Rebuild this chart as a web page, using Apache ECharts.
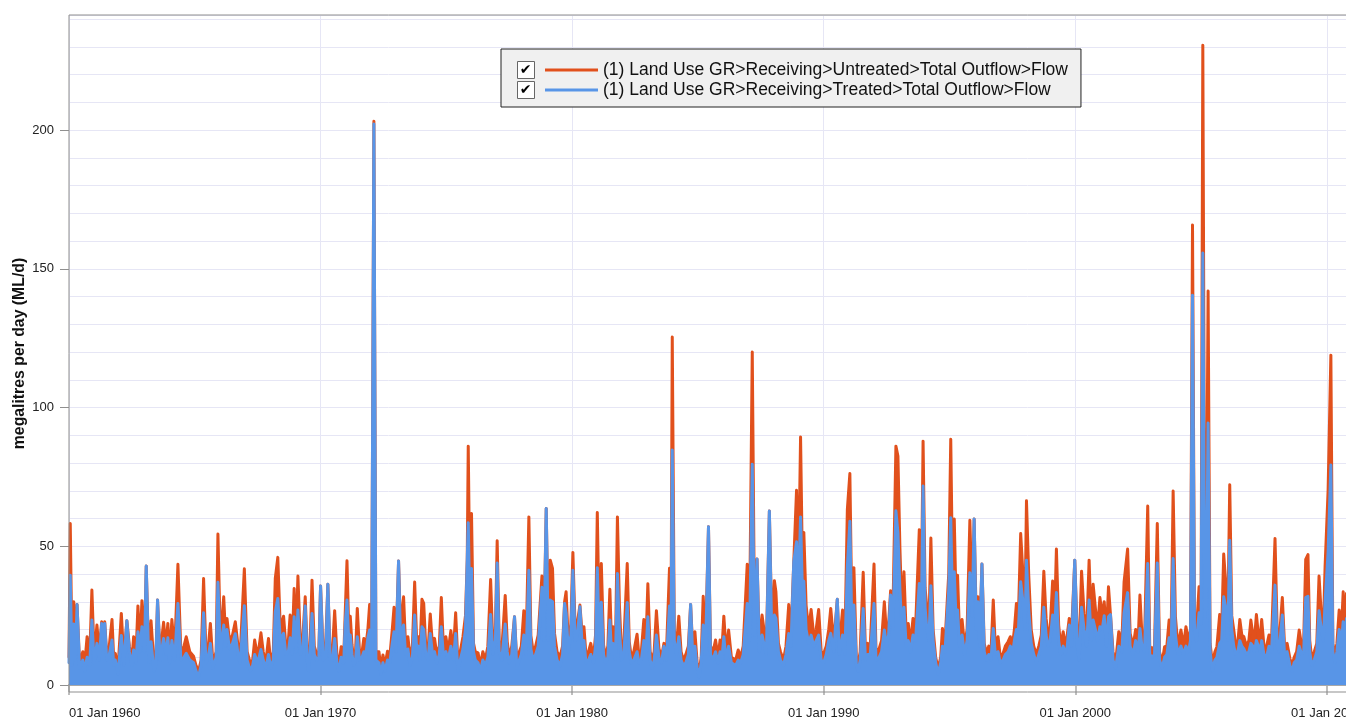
<!DOCTYPE html>
<html>
<head>
<meta charset="utf-8">
<script src="https://cdn.jsdelivr.net/npm/echarts@6/dist/echarts.min.js"></script>
<style>
html,body{margin:0;padding:0;background:#fff;}
#chart{width:1346px;height:720px;}
</style>
</head>
<body>
<div id="chart"></div>
<script>
// [decimal year, untreated ML/d, treated ML/d]
const flow1960s = [
[1960.00,10,8],[1960.05,58.2,39.6],[1960.12,10,7],[1960.19,30,22],[1960.25,12,9],[1960.32,29,29],[1960.42,8,6],[1960.55,12,9],[1960.62,7,5],[1960.72,17.4,10],[1960.82,9,7],[1960.91,34.2,23.4],[1961.00,10,8],[1961.11,21.6,15],[1961.20,12,9],[1961.30,22.8,22.2],[1961.36,16,13],[1961.42,22.8,22.2],[1961.50,11,9],[1961.60,14,11],[1961.71,23.6,16.2],[1961.78,9,7],[1961.84,11.4,9],[1961.95,6,4],[1962.08,25.8,17.8],[1962.18,9,7],[1962.30,23.2,23.2],[1962.40,14,12],[1962.50,9,7],[1962.57,17.4,12.6],[1962.66,10,8],[1962.74,28.5,19.2],[1962.82,14,12],[1962.90,30.4,21],[1963.00,15,12],[1963.07,42.9,42.9],[1963.17,10,8],[1963.26,23.2,15.6],[1963.38,7,5],[1963.45,9,7],[1963.52,30.6,30.6],[1963.62,11,9],[1963.76,22.6,16.8],[1963.85,14,11],[1963.93,22.2,17],[1964.00,10,8],[1964.09,23.6,16],[1964.20,12,9],[1964.33,43.5,29.4],[1964.45,11,9],[1964.57,14,10],[1964.66,17.4,11.4],[1964.80,12,9],[1964.95,10.4,8],[1965.05,7,5],[1965.15,4.8,3],[1965.25,9,7],[1965.35,38.4,26],[1965.45,10,8],[1965.55,15,11],[1965.62,22.2,15],[1965.72,8,6],[1965.85,12,10],[1965.92,54.4,37],[1966.02,15,12],[1966.15,31.8,21.6],[1966.22,18,14],[1966.28,24,20],[1966.38,16,13],[1966.50,18,15],[1966.61,22.8,18.5],[1966.72,14,11],[1966.80,10,8],[1966.97,41.9,28.6],[1967.08,12,9],[1967.21,7.8,5],[1967.30,9,7],[1967.38,16.2,11],[1967.50,10,8],[1967.63,18.8,12.8],[1967.72,12,9],[1967.82,8,6],[1967.93,16.8,11],[1968.02,8,6],[1968.12,12,9],[1968.20,38.4,26.4],[1968.30,46,31.2],[1968.40,20,16],[1968.53,24.8,18.6],[1968.62,14,11],[1968.72,16,12],[1968.79,25.2,17],[1968.87,14,11],[1968.95,34.8,24.6],[1969.02,15,12],[1969.10,39.3,27],[1969.20,14,11],[1969.30,18,14],[1969.39,31.8,28.5],[1969.47,12,9],[1969.52,7.2,5],[1969.58,14,11],[1969.66,37.8,25.8],[1969.75,14,11],[1969.85,11,9],[1969.93,12,10]
];
const flow1970s = [
[1970.00,35.7,35.7],[1970.10,12,9],[1970.20,14,10],[1970.29,36.3,36.3],[1970.38,11,9],[1970.47,12,9],[1970.56,26.8,16.8],[1970.65,11,8],[1970.72,7,5],[1970.82,13.8,10],[1970.92,10,8],[1970.98,26,22],[1971.05,44.8,30.6],[1971.12,20,16],[1971.18,24.8,18],[1971.25,14.4,11],[1971.32,9,7],[1971.39,12,9],[1971.46,27.6,17.4],[1971.55,11.4,9],[1971.65,12,10],[1971.72,16.8,12],[1971.80,14,11],[1971.88,20,17],[1971.95,29,19.8],[1972.03,15,12],[1972.12,203.2,202.2],[1972.20,12,9],[1972.32,12,8],[1972.40,6,4],[1972.48,10.8,8],[1972.56,7,5],[1972.66,12.2,9],[1972.75,10,8],[1972.85,20,15],[1972.92,28,19.2],[1973.00,15,12],[1973.10,44.7,44.7],[1973.18,20,16],[1973.30,31.8,21.6],[1973.38,14,11],[1973.47,17.4,13],[1973.56,10,7],[1973.65,14,10],[1973.74,37.1,25.2],[1973.82,16,13],[1973.88,17.4,14],[1973.95,12,9],[1974.03,30.9,21],[1974.10,29.4,20],[1974.18,14,11],[1974.27,12,9],[1974.36,25.6,18.6],[1974.45,14,11],[1974.53,16.8,12],[1974.62,11,8],[1974.72,14,11],[1974.80,31.5,21],[1974.88,14,11],[1974.98,17.4,12],[1975.07,12,9],[1975.18,19.6,14],[1975.28,12,9],[1975.37,26,18.6],[1975.46,7.8,5],[1975.55,12,9],[1975.66,17.4,13],[1975.76,25,20],[1975.83,45.2,45],[1975.87,86.1,58.5],[1975.94,30,25],[1976.00,61.8,42],[1976.08,15,12],[1976.15,12,9],[1976.26,11.6,8],[1976.35,7,5],[1976.45,12,9],[1976.55,9,7],[1976.65,14,10],[1976.76,38,25.4],[1976.85,14,11],[1976.95,20,16],[1977.02,52,44],[1977.10,16,12],[1977.20,12,9],[1977.34,32.3,22],[1977.42,15.6,12],[1977.50,10,8],[1977.60,14,11],[1977.71,24.6,24.6],[1977.80,8.4,6],[1977.90,12,9],[1977.98,14,11],[1978.08,26.8,18],[1978.17,14,11],[1978.28,60.6,41.4],[1978.36,17.8,13],[1978.45,12,9],[1978.55,14,11],[1978.65,18,14],[1978.80,39.3,35.2],[1978.88,20,16],[1978.97,63.6,63.6],[1979.05,20,16],[1979.13,45,30.6],[1979.22,42,30],[1979.30,18.6,14],[1979.40,12,9],[1979.52,10.2,7],[1979.62,14,11],[1979.70,30,29.4],[1979.76,33.6,26],[1979.85,15,12],[1979.95,22,18]
];
const flow1980s = [
[1980.03,47.8,41.4],[1980.12,20,16],[1980.20,22,17],[1980.31,28.8,28.2],[1980.40,18,14],[1980.47,21,16],[1980.55,10.8,8],[1980.65,12,9],[1980.74,15,11],[1980.85,10,8],[1980.93,18,14],[1981.00,62.2,42.3],[1981.08,20,15],[1981.16,43.8,29.8],[1981.25,14.4,11],[1981.33,10,8],[1981.42,14,10],[1981.50,34.5,23.4],[1981.57,14,11],[1981.63,21,15],[1981.72,12,9],[1981.80,60.6,40.2],[1981.88,28.6,20],[1981.96,12,9],[1982.05,14,11],[1982.19,43.8,29.7],[1982.27,15.6,12],[1982.35,10,8],[1982.45,12,9],[1982.58,18.3,12],[1982.66,10,8],[1982.75,12,9],[1982.85,23.6,16],[1982.93,14,11],[1983.01,36.5,24.6],[1983.10,12,9],[1983.18,9,6],[1983.26,12,9],[1983.35,26.8,18],[1983.45,13.2,10],[1983.55,10,8],[1983.65,15,14],[1983.75,12,9],[1983.87,42.1,28.5],[1983.93,20,16],[1983.98,125.4,84.7],[1984.06,20,16],[1984.15,14,11],[1984.24,24.8,17.4],[1984.33,12,9],[1984.42,9,7],[1984.52,11,8],[1984.62,14,11],[1984.71,29,29],[1984.80,12,9],[1984.88,19.2,14],[1984.97,8,6],[1985.05,4.8,3],[1985.13,10,8],[1985.21,32,21.6],[1985.30,14,11],[1985.42,57,57],[1985.50,14,11],[1985.60,12,9],[1985.70,16.2,12],[1985.80,10,8],[1985.88,16.2,12],[1985.95,12,9],[1986.03,24.8,17.4],[1986.12,12,9],[1986.22,19.8,14],[1986.33,10,8],[1986.50,9,7],[1986.60,12.6,9],[1986.70,10,8],[1986.80,14,11],[1986.96,43.5,29.4],[1987.05,20,16],[1987.16,120,79.6],[1987.25,22,18],[1987.35,45.4,45.4],[1987.44,15,12],[1987.55,25.2,18],[1987.62,20.4,15],[1987.72,14,11],[1987.84,62.7,62.7],[1987.94,20,16],[1988.04,37.6,25.2],[1988.10,33.6,24],[1988.20,15,12],[1988.28,12,9],[1988.40,9,7],[1988.50,14,11],[1988.61,29,18.6],[1988.70,18,14],[1988.81,44.4,44.4],[1988.92,70.2,51.6],[1989.00,40,35],[1989.08,89.4,60.6],[1989.15,45,35],[1989.21,55,37.4],[1989.30,28.8,20],[1989.40,20,15],[1989.50,27.2,18],[1989.60,18,14],[1989.70,20,16],[1989.80,27.2,18],[1989.90,12,9]
];
const flow1990s = [
[1990.00,11.4,8],[1990.10,14,11],[1990.20,20,16],[1990.28,27.6,18.6],[1990.40,15,12],[1990.54,30.9,30.9],[1990.62,14,11],[1990.75,27,18],[1990.84,14,11],[1990.94,63.3,42.6],[1991.04,76.2,59],[1991.12,25,20],[1991.20,42.3,28.8],[1991.30,9,7],[1991.37,7.8,5],[1991.45,12,9],[1991.57,40.6,27.6],[1991.66,12,9],[1991.75,15,11],[1991.85,14,11],[1992.00,43.6,29.4],[1992.08,12,9],[1992.20,13,10],[1992.30,16,12],[1992.41,30,19.8],[1992.50,18,14],[1992.58,22,18],[1992.66,34,32.4],[1992.75,25,20],[1992.87,86.1,62.8],[1992.95,82.5,55],[1993.03,49.2,34.2],[1993.11,25,20],[1993.19,40.8,28],[1993.28,18,14],[1993.36,22.2,16],[1993.45,15,12],[1993.55,24,18],[1993.65,20,16],[1993.80,56,36.6],[1993.88,30,25],[1993.95,87.9,71.7],[1994.03,35,28],[1994.10,28,20],[1994.18,20,16],[1994.26,53,35.8],[1994.35,20,16],[1994.45,10,8],[1994.55,6,4],[1994.65,10,8],[1994.72,20.4,14],[1994.82,15,12],[1994.97,40.2,34.2],[1995.05,88.6,60.3],[1995.12,40,30],[1995.19,59.8,40.8],[1995.26,30,24],[1995.32,39.6,27],[1995.40,18,14],[1995.50,23.6,18],[1995.60,14,11],[1995.70,20,16],[1995.81,59.4,40.5],[1995.90,30,25],[1995.98,59.8,59.8],[1996.06,25,20],[1996.13,31.8,30],[1996.20,18,14],[1996.29,43.6,43.6],[1996.38,15,12],[1996.47,11.4,9],[1996.56,14,11],[1996.65,12,9],[1996.74,30.6,20.4],[1996.82,14,11],[1996.93,17.4,12],[1997.02,10,8],[1997.13,11.4,9],[1997.22,14,11],[1997.33,15.6,12],[1997.42,17.4,14],[1997.50,14,11],[1997.58,20,16],[1997.66,29.4,20],[1997.74,25,20],[1997.83,54.6,37.2],[1997.92,40,30],[1998.00,25,20],[1998.06,66.4,45],[1998.15,39.6,27],[1998.25,19.8,15],[1998.35,14,11],[1998.45,11,8],[1998.55,14,11],[1998.65,18,14],[1998.75,41,28],[1998.84,24,18],[1998.92,18,14],[1999.00,20,16],[1999.10,37.5,25.2],[1999.18,25,20],[1999.25,49,33.3],[1999.34,21.6,16],[1999.42,14,11],[1999.52,19.2,14],[1999.60,14,11],[1999.68,18,14],[1999.76,24,21.6],[1999.85,18,14],[1999.98,45,45]
];
const flow2000s = [
[2000.08,18,14],[2000.15,11,9],[2000.25,41,28],[2000.35,25.8,20],[2000.45,18,14],[2000.55,45,30.6],[2000.64,20,16],[2000.71,36.3,23.4],[2000.80,27.6,20],[2000.88,20,16],[2000.98,31.5,21],[2001.07,25,20],[2001.15,30,25],[2001.24,18,14],[2001.32,35.4,24.6],[2001.40,25.4,25.4],[2001.50,12,9],[2001.60,8,6],[2001.73,19.2,14],[2001.85,15,12],[2001.94,37.2,26],[2002.08,49,33.3],[2002.18,18.6,14],[2002.30,14,11],[2002.40,20,16],[2002.50,16,12],[2002.57,32.4,20.4],[2002.65,18,14],[2002.75,15,12],[2002.88,64.5,43.8],[2002.96,14,11],[2003.06,13,10],[2003.15,14,11],[2003.26,58.2,44],[2003.35,12,9],[2003.45,8,6],[2003.55,13.8,10],[2003.64,14,11],[2003.73,23.4,17],[2003.81,18,14],[2003.89,69.9,45.6],[2003.98,24.6,18],[2004.08,14,11],[2004.20,19.8,14],[2004.30,14,11],[2004.40,21,14],[2004.50,15.6,12],[2004.58,20,16],[2004.66,165.8,140.5],[2004.74,24,20],[2004.82,20,16],[2004.92,35.4,26],[2005.00,25,22],[2005.07,230.6,155.7],[2005.15,30,24],[2005.21,40,30],[2005.28,142,94.4],[2005.36,15,12],[2005.45,7.8,5],[2005.55,12,9],[2005.63,13.8,10],[2005.74,25.4,15],[2005.82,20,16],[2005.90,47.2,31.8],[2005.98,37,28],[2006.06,20,16],[2006.14,72.2,52.2],[2006.22,25,20],[2006.30,19.8,14],[2006.38,14,11],[2006.46,15,12],[2006.54,23.6,16],[2006.62,18,14],[2006.70,17.4,13],[2006.80,14,11],[2006.90,16,12],[2006.98,23.4,15],[2007.06,18,14],[2007.12,16,12],[2007.20,25.4,16],[2007.28,18,14],[2007.34,16,12],[2007.41,23.6,16],[2007.50,14,11],[2007.60,13.8,10],[2007.70,18,14],[2007.80,15.6,12],[2007.94,52.8,36],[2008.03,18,14],[2008.10,15,12],[2008.23,31.5,25.2],[2008.32,14,11],[2008.42,15,12],[2008.53,9.6,7],[2008.62,7,5],[2008.70,10,8],[2008.80,12,9],[2008.90,19.8,14],[2009.00,14,11],[2009.08,16,12],[2009.16,45.3,31.5],[2009.25,47,32],[2009.32,16,12],[2009.40,9.6,7],[2009.50,12,9],[2009.60,15,12],[2009.69,39.3,26.8],[2009.78,25,20],[2009.86,20,16],[2009.93,42.6,30]
];
const flow2010s = [
[2010.05,70.2,48],[2010.16,118.9,79.3],[2010.24,15,12],[2010.32,10.8,8],[2010.40,15,12],[2010.49,27,20],[2010.57,18,14],[2010.65,33.6,22.8],[2010.72,20,16],[2010.78,33,24],[2010.85,15,12],[2010.95,12,9]
];

const seriesNames = [
  '(1) Land Use GR>Receiving>Untreated>Total Outflow>Flow',
  '(1) Land Use GR>Receiving>Treated>Total Outflow>Flow'
];
const yTickValues = [0, 50, 100, 150, 200];
const xTickYears = [1960, 1970, 1980, 1990, 2000, 2010];
const yAxisTitle = 'megalitres per day (ML/d)';

const ORANGE = '#e1501c';
const BLUE = '#5895e7';
const GRIDC = '#e6e6f5';
const FONT = '"Liberation Sans", Arial, sans-serif';

const allRows = [].concat(flow1960s, flow1970s, flow1980s, flow1990s, flow2000s, flow2010s);
const untreatedData = allRows.map(r => [r[0], r[1]]);
const treatedData = allRows.map(r => [r[0], r[2]]);

const chart = echarts.init(document.getElementById('chart'), null, {renderer: 'canvas'});
const option = {
  animation: false,
  backgroundColor: '#fff',
  textStyle: {fontFamily: FONT},
  grid: [
    {left: 69, right: -6, top: 15, bottom: 35, show: false, containLabel: false, outerBoundsMode: 'none'},
    {left: 69, right: -6, top: 15, bottom: 28, show: true, borderColor: '#8f8f8f', borderWidth: 1, backgroundColor: 'transparent', z: 5, containLabel: false, outerBoundsMode: 'none'}
  ],
  xAxis: [
    {
      type: 'value', gridIndex: 0, min: 1960, max: 2011, interval: 10, offset: 7,
      axisLine: {show: true, lineStyle: {color: '#a8a8a8', width: 2}},
      axisTick: {show: true, length: 10, lineStyle: {color: '#a8a8a8', width: 1.5}},
      axisLabel: {
        show: true, color: '#222', fontSize: 13, fontFamily: FONT, margin: 15,
        showMaxLabel: false, alignMinLabel: 'left', hideOverlap: false,
        formatter: v => (xTickYears.indexOf(v) >= 0 ? '01 Jan ' + v : '')
      },
      splitLine: {show: true, lineStyle: {color: GRIDC, width: 1}}
    },
    {type: 'value', gridIndex: 1, min: 0, max: 1, show: false}
  ],
  yAxis: [
    {
      type: 'value', gridIndex: 0, min: 0, max: 241.5, interval: 10,
      axisLine: {show: false}, axisTick: {show: false}, axisLabel: {show: false},
      splitLine: {show: true, lineStyle: {color: GRIDC, width: 1}}
    },
    {
      type: 'value', gridIndex: 0, min: 0, max: 241.5, interval: 50, position: 'left',
      axisLine: {show: false},
      axisTick: {show: true, length: 9, customValues: yTickValues, lineStyle: {color: '#8f8f8f', width: 1}},
      axisLabel: {show: true, customValues: yTickValues, color: '#222', fontSize: 13, fontFamily: FONT, margin: 15},
      splitLine: {show: false}
    },
    {
      type: 'value', gridIndex: 1, min: 0, max: 1, position: 'left',
      axisLine: {show: false}, axisTick: {show: false}, axisLabel: {show: false}, splitLine: {show: false},
      name: yAxisTitle, nameLocation: 'middle', nameGap: 41,
      nameTextStyle: {fontWeight: 'bold', fontSize: 15.8, color: '#111', fontFamily: FONT}
    }
  ],
  legend: {
    orient: 'vertical', left: 501, top: 49,
    backgroundColor: '#f0f0f0', borderColor: '#222', borderWidth: 1,
    padding: [12, 13, 8, 44],
    icon: 'rect', itemWidth: 53, itemHeight: 3, itemGap: 2,
    selectedMode: false,
    textStyle: {fontFamily: FONT, fontSize: 17.5, color: '#111', lineHeight: 18},
    data: seriesNames
  },
  graphic: [
    {type: 'rect', left: 517, top: 61, shape: {width: 17, height: 17}, style: {fill: '#fff', stroke: '#666', lineWidth: 1}, z: 100},
    {type: 'text', x: 525.5, y: 70, style: {text: '✔', font: 'bold 14px "DejaVu Sans"', fill: '#000', align: 'center', verticalAlign: 'middle'}, z: 101},
    {type: 'rect', left: 517, top: 81, shape: {width: 17, height: 17}, style: {fill: '#fff', stroke: '#666', lineWidth: 1}, z: 100},
    {type: 'text', x: 525.5, y: 90, style: {text: '✔', font: 'bold 14px "DejaVu Sans"', fill: '#000', align: 'center', verticalAlign: 'middle'}, z: 101}
  ],
  series: [
    {
      name: seriesNames[0], type: 'line', xAxisIndex: 0, yAxisIndex: 0,
      data: untreatedData, symbol: 'none', showSymbol: false,
      lineStyle: {color: ORANGE, width: 3, join: 'round', cap: 'round'},
      itemStyle: {color: ORANGE},
      areaStyle: {color: ORANGE, opacity: 1},
      z: 2
    },
    {
      name: seriesNames[1], type: 'line', xAxisIndex: 0, yAxisIndex: 0,
      data: treatedData, symbol: 'none', showSymbol: false,
      lineStyle: {color: BLUE, width: 3, join: 'round', cap: 'round'},
      itemStyle: {color: BLUE},
      areaStyle: {color: BLUE, opacity: 1},
      z: 3
    }
  ]
};
chart.setOption(option);
</script>
</body>
</html>
